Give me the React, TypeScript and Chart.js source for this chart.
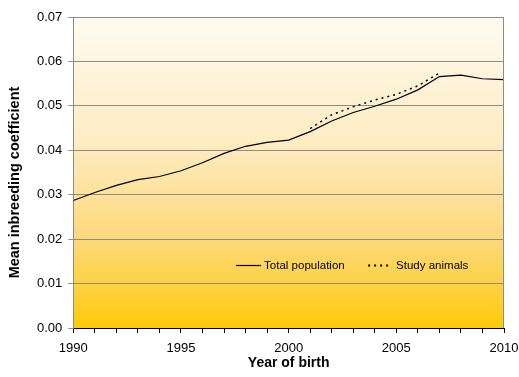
import React, { useEffect, useRef } from "react";
import { Chart, registerables } from "chart.js";

Chart.register(...registerables);

const years = [1990, 1991, 1992, 1993, 1994, 1995, 1996, 1997, 1998, 1999, 2000, 2001, 2002, 2003, 2004, 2005, 2006, 2007, 2008, 2009, 2010];
const totalPopulation = [0.0287, 0.0305, 0.0321, 0.0334, 0.0341, 0.0354, 0.0372, 0.0393, 0.0409, 0.0418, 0.0423, 0.0442, 0.0466, 0.0485, 0.0499, 0.0515, 0.0536, 0.0566, 0.0569, 0.0561, 0.0559];
const studyAnimals: (number | null)[] = [null, null, null, null, null, null, null, null, null, null, null, 0.0449, 0.048, 0.0498, 0.0513, 0.0526, 0.0545, 0.0574, null, null, null];
const yTicks = [0, 0.01, 0.02, 0.03, 0.04, 0.05, 0.06, 0.07];
const legendLabels = ["Total population", "Study animals"];
const xTitle = "Year of birth";
const yTitle = "Mean inbreeding coefficient";

const FONT = "'Liberation Sans', Arial, sans-serif";

const bgPlugin = {
  id: "bgPlugin",
  beforeDraw(chart: any) {
    const { ctx, chartArea: a } = chart;
    const g = ctx.createLinearGradient(0, a.top, 0, a.bottom);
    g.addColorStop(0, "#fffbef");
    g.addColorStop(0.4, "#feecc2");
    g.addColorStop(0.72, "#fdd87a");
    g.addColorStop(1, "#ffcb08");
    ctx.save();
    ctx.fillStyle = g;
    ctx.fillRect(a.left, a.top, a.right - a.left, a.bottom - a.top);
    ctx.restore();
  },
  afterDraw(chart: any) {
    const { ctx, chartArea: a } = chart;
    ctx.save();
    ctx.strokeStyle = "#8c8c8c";
    ctx.lineWidth = 1;
    ctx.beginPath();
    ctx.moveTo(a.right - 0.5, a.top);
    ctx.lineTo(a.right - 0.5, a.bottom);
    ctx.stroke();
    // y-axis title
    ctx.save();
    ctx.translate(a.left - 58, (a.top + a.bottom) / 2 + 10);
    ctx.rotate(-Math.PI / 2);
    ctx.font = `bold 14.5px ${FONT}`;
    ctx.textAlign = "center";
    ctx.textBaseline = "middle";
    ctx.fillStyle = "#000";
    ctx.fillText(yTitle, 0, 0);
    ctx.restore();
    // legend
    const y = Math.round(a.top + (a.bottom - a.top) * 0.798) + 0.5;
    const x0 = a.left + (a.right - a.left) * 0.378;
    ctx.font = `11.5px ${FONT}`;
    ctx.textBaseline = "middle";
    ctx.fillStyle = "#000";
    ctx.strokeStyle = "#000";
    ctx.lineWidth = 1.2;
    ctx.beginPath();
    ctx.moveTo(x0, y);
    ctx.lineTo(x0 + 25, y);
    ctx.stroke();
    ctx.fillText(legendLabels[0], x0 + 28, y);
    const x1 = x0 + 132;
    ctx.lineWidth = 2;
    ctx.setLineDash([2, 4]);
    ctx.beginPath();
    ctx.moveTo(x1, y);
    ctx.lineTo(x1 + 24, y);
    ctx.stroke();
    ctx.setLineDash([]);
    ctx.fillText(legendLabels[1], x1 + 28, y);
    ctx.restore();
  },
};

export default function App() {
  const ref = useRef<HTMLCanvasElement>(null);
  useEffect(() => {
    if (!ref.current) return;
    const chart = new Chart(ref.current, {
      type: "line",
      data: {
        datasets: [
          {
            label: legendLabels[0],
            data: years.map((x, i) => ({ x, y: totalPopulation[i] })),
            borderColor: "#000",
            borderWidth: 1.2,
            pointRadius: 0,
            tension: 0,
          },
          {
            label: legendLabels[1],
            data: years.map((x, i) => ({ x, y: studyAnimals[i] })) as any,
            borderColor: "#000",
            borderWidth: 1.5,
            borderDash: [2, 4],
            pointRadius: 0,
            tension: 0,
            spanGaps: false,
          },
        ],
      },
      options: {
        animation: false,
        responsive: false,
        maintainAspectRatio: false,
        layout: { padding: { top: 17, right: 0, left: 31, bottom: 5 } },
        plugins: { legend: { display: false }, tooltip: { enabled: false } },
        scales: {
          x: {
            type: "linear",
            min: 1990,
            max: 2010,
            afterBuildTicks: (s: any) => {
              s.ticks = years.map((v) => ({ value: v }));
            },
            afterFit: (s: any) => {
              s.height = 44;
              s.paddingRight = 15;
            },
            ticks: {
              autoSkip: false,
              maxRotation: 0,
              color: "#000",
              font: { family: FONT, size: 13 },
              padding: 8,
              callback: (v: any) => (Number(v) % 5 === 0 ? String(v) : ""),
            },
            grid: { drawOnChartArea: false, tickLength: 5, color: "#000" },
            border: { color: "#000", width: 1 },
            title: {
              display: true,
              text: xTitle,
              color: "#000",
              font: { family: FONT, size: 14, weight: "bold" },
              padding: { top: 0, bottom: 0 },
            },
          },
          y: {
            min: 0,
            max: 0.07,
            afterBuildTicks: (s: any) => {
              s.ticks = yTicks.map((v) => ({ value: v }));
            },
            ticks: {
              color: "#000",
              font: { family: FONT, size: 13 },
              padding: 6,
              callback: (v: any) => Number(v).toFixed(2),
            },
            grid: { color: "#8c8c8c", tickLength: 5, lineWidth: 1 },
            border: { color: "#8c8c8c", width: 1 },
            title: { display: false },
          },
        },
      },
      plugins: [bgPlugin],
    });
    return () => chart.destroy();
  }, []);
  return (
    <div style={{ position: "fixed", left: 0, top: 0, width: 519, height: 377, background: "#fff" }}>
      <canvas ref={ref} width={519} height={377} style={{ display: "block", width: 519, height: 377 }} />
    </div>
  );
}
